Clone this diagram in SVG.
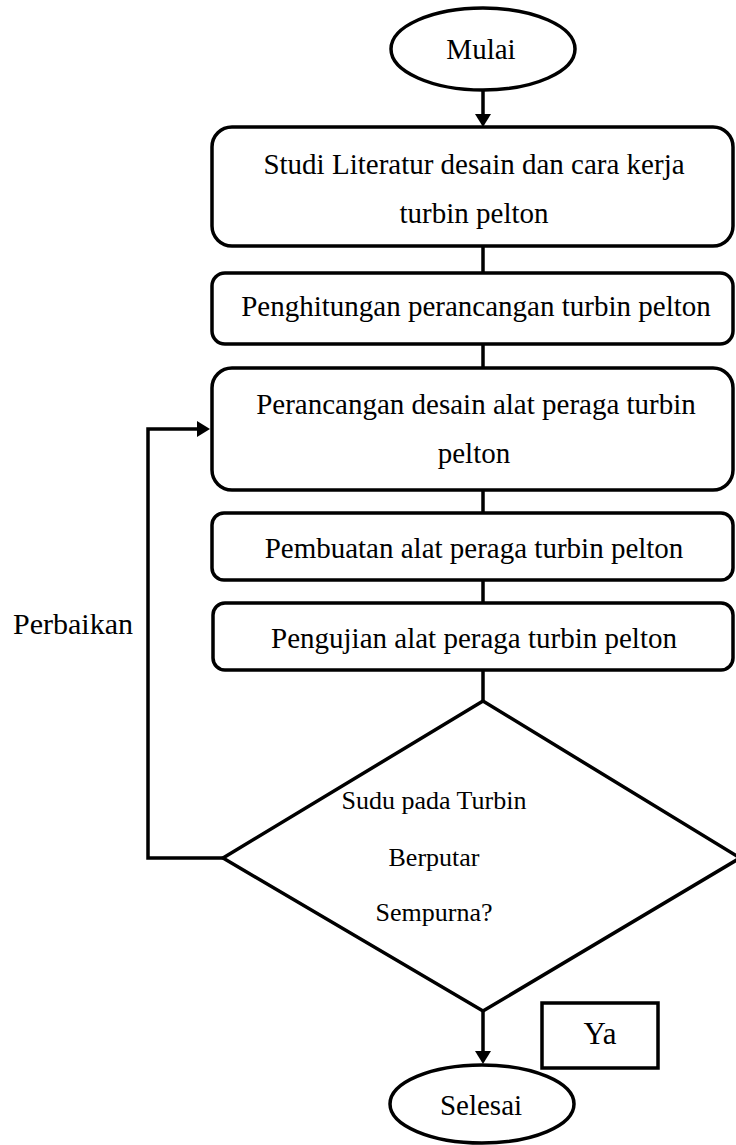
<svg xmlns="http://www.w3.org/2000/svg" width="736" height="1145" viewBox="0 0 736 1145">
<style>
.s{fill:#fff;stroke:#000;stroke-width:3.5}
.c{fill:none;stroke:#000;stroke-width:3.5}
.t{font-family:"Liberation Serif","Times New Roman",serif;font-size:29px;fill:#000;text-anchor:middle}
.d{font-family:"Liberation Serif","Times New Roman",serif;font-size:26px;fill:#000;text-anchor:middle}
</style>
<defs>
<marker id="ah" markerUnits="userSpaceOnUse" markerWidth="14" markerHeight="16" refX="0" refY="8" orient="auto">
<path d="M0,0 L13,8 L0,16 z" fill="#000"/>
</marker>
</defs>
<rect width="736" height="1145" fill="#fff"/>
<g id="connectors">
<line class="c" x1="483" y1="90" x2="483" y2="114" marker-end="url(#ah)"/>
<line class="c" x1="483" y1="246" x2="483" y2="273"/>
<line class="c" x1="483" y1="344" x2="483" y2="368"/>
<line class="c" x1="483" y1="490" x2="483" y2="513"/>
<line class="c" x1="483" y1="580" x2="483" y2="603"/>
<line class="c" x1="483" y1="670" x2="483" y2="701"/>
<path class="c" d="M223,858 H148 V429 H197" marker-end="url(#ah)"/>
<line class="c" x1="483" y1="1011" x2="483" y2="1051" marker-end="url(#ah)"/>
</g>
<g id="mulai">
<ellipse class="s" cx="483" cy="49" rx="92" ry="41"/>
<text class="t" x="481" y="59">Mulai</text>
</g>
<g id="studi">
<rect class="s" x="212" y="127" width="521" height="119" rx="20"/>
<text class="t" x="474" y="174">Studi Literatur desain dan cara kerja</text>
<text class="t" x="474" y="223">turbin pelton</text>
</g>
<g id="penghitungan">
<rect class="s" x="212" y="273" width="521" height="71" rx="13"/>
<text class="t" x="476" y="316">Penghitungan perancangan turbin pelton</text>
</g>
<g id="perancangan">
<rect class="s" x="212" y="368" width="521" height="122" rx="20"/>
<text class="t" x="476" y="414">Perancangan desain alat peraga turbin</text>
<text class="t" x="474" y="463">pelton</text>
</g>
<g id="pembuatan">
<rect class="s" x="212" y="513" width="521" height="67" rx="12"/>
<text class="t" x="474" y="558">Pembuatan alat peraga turbin pelton</text>
</g>
<g id="pengujian">
<rect class="s" x="213" y="603" width="520" height="67" rx="12"/>
<text class="t" x="474" y="648">Pengujian alat peraga turbin pelton</text>
</g>
<g id="keputusan">
<polygon class="s" points="483,701 223,858 483,1011 740,858"/>
<text class="d" x="434" y="809">Sudu pada Turbin</text>
<text class="d" x="434" y="866">Berputar</text>
<text class="d" x="434" y="921">Sempurna?</text>
</g>
<g id="selesai">
<ellipse class="s" cx="482" cy="1104" rx="92" ry="39"/>
<text class="t" x="481" y="1115">Selesai</text>
</g>
<g id="ya">
<rect class="s" x="542" y="1003" width="116" height="65"/>
<text class="t" x="600" y="1044" style="font-size:31px">Ya</text>
</g>
<g id="perbaikan">
<text class="t" x="13" y="634" style="text-anchor:start;font-size:30px">Perbaikan</text>
</g>
</svg>
